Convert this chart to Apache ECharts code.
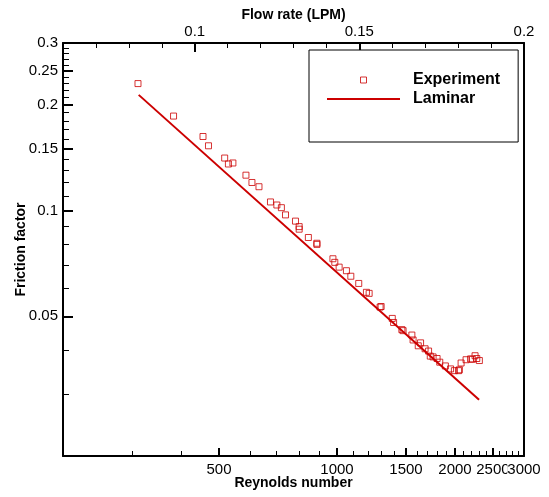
<!DOCTYPE html>
<html>
<head>
<meta charset="utf-8">
<script src="https://cdn.jsdelivr.net/npm/echarts@6/dist/echarts.min.js"></script>
<style>
html,body{margin:0;padding:0;background:#fff;}
#chart{width:549px;height:497px;}
</style>
</head>
<body>
<div id="chart"></div>
<script>
// ---- data ----
const reynolds = [310.7, 382.9, 455.2, 470.1, 517.0, 528.5, 542.6, 585.8, 606.8, 632.4,
  676.6, 702.5, 721.4, 739.1, 783.7, 800.8, 800.8, 845.3, 888.5, 889.0,
  976.5, 987.3, 1012.7, 1057.1, 1084.7, 1136.4, 1188.9, 1207.9, 1288.2, 1296.0,
  1383.8, 1394.6, 1464.0, 1474.5, 1552.6, 1563.7, 1634, 1612, 1677.9, 1712.7,
  1729.8, 1758.7, 1800.5, 1829, 1890.3, 1949.1, 1993.1, 2042.8, 2052.3, 2073.2,
  2134.7, 2192, 2215.4, 2250.4, 2273.3, 2308.1];
const friction = [0.2299, 0.1858, 0.1625, 0.1529, 0.1411, 0.1357, 0.1366, 0.1261, 0.1202, 0.1169,
  0.1058, 0.1037, 0.1019, 0.0972, 0.0933, 0.0900, 0.0885, 0.0838, 0.0807, 0.0801,
  0.0729, 0.0712, 0.0690, 0.0674, 0.0650, 0.0620, 0.0585, 0.0581, 0.0531, 0.0533,
  0.0493, 0.0480, 0.0458, 0.0455, 0.0442, 0.0428, 0.0420, 0.0412, 0.0404, 0.0398,
  0.0385, 0.0383, 0.0379, 0.0370, 0.0361, 0.0354, 0.0350, 0.0350, 0.0352, 0.0368,
  0.0376, 0.0378, 0.0377, 0.0386, 0.0379, 0.0374];
const laminarRe = [312, 2304];
const laminarF = [0.2135, 0.0289];

const reMajorTicks = [500, 1000, 1500, 2000, 2500, 3000];
const reLabelsA = [500, 1000, 1500, 2000, 2500];
const reLabelsB = [3000];
const reMinorTicks = [300, 400, 600, 700, 800, 900, 1100, 1200, 1300, 1400, 1600, 1700, 1800, 1900,
  2100, 2200, 2300, 2400, 2600, 2700, 2800, 2900];
const fMajorTicks = [0.05, 0.1, 0.15, 0.2, 0.25, 0.3];
const fMinorTicks = [0.03, 0.04, 0.06, 0.07, 0.08, 0.09, 0.11, 0.12, 0.13, 0.14, 0.16, 0.17, 0.18, 0.19,
  0.21, 0.22, 0.23, 0.24, 0.26, 0.27, 0.28, 0.29];
const flowMajorTicks = [0.1, 0.15, 0.2];
const flowMinorTicks = [0.07, 0.08, 0.09, 0.11, 0.12, 0.13, 0.14, 0.16, 0.17, 0.18, 0.19];

// ---- chart ----
const FONT = 'Liberation Sans, Arial, Helvetica, sans-serif';
const RED = '#cc0000';
const fmt = v => String(parseFloat(Number(v).toPrecision(4)));
const fmtInt = v => String(Math.round(v));

const chart = echarts.init(document.getElementById('chart'), null, {renderer: 'canvas'});
const axisLineStyle = {show: true, lineStyle: {color: '#000', width: 2}};
const labelStyle = {fontFamily: FONT, fontSize: 15, color: '#000'};
const nameStyle = {fontFamily: FONT, fontSize: 14, fontWeight: 'bold', color: '#000'};

chart.setOption({
  animation: false,
  backgroundColor: '#fff',
  textStyle: {fontFamily: FONT},
  grid: {left: 63, right: 25, top: 43, bottom: 41, containLabel: false},
  xAxis: [
    {
      type: 'log', logBase: 10, min: 200, max: 3000, position: 'bottom',
      axisLine: axisLineStyle,
      axisTick: {show: true, inside: true, length: 8, customValues: reMajorTicks, lineStyle: {color: '#000', width: 2}},
      axisLabel: Object.assign({show: true, margin: 6, customValues: reLabelsA, hideOverlap: false,
        showMinLabel: true, showMaxLabel: true, formatter: fmtInt}, labelStyle),
      splitLine: {show: false}, minorTick: {show: false},
      name: 'Reynolds number', nameLocation: 'middle', nameGap: 20, nameMoveOverlap: false,
      nameTextStyle: nameStyle
    },
    {
      type: 'log', logBase: 10, min: 200, max: 3000, position: 'bottom',
      axisLine: {show: false},
      axisTick: {show: true, inside: true, length: 5, customValues: reMinorTicks, lineStyle: {color: '#000', width: 1}},
      axisLabel: {show: false}, splitLine: {show: false}
    },
    {
      type: 'log', logBase: 10, min: 200, max: 3000, position: 'bottom',
      axisLine: {show: false}, axisTick: {show: false},
      axisLabel: Object.assign({show: true, margin: 6, customValues: reLabelsB, hideOverlap: false,
        showMinLabel: true, showMaxLabel: true, backgroundColor: '#fff', formatter: fmtInt}, labelStyle),
      splitLine: {show: false}
    },
    {
      type: 'value', min: 0.06, max: 0.2, position: 'top',
      axisLine: axisLineStyle,
      axisTick: {show: true, inside: true, length: 5, customValues: flowMinorTicks, lineStyle: {color: '#000', width: 1}},
      axisLabel: {show: false}, splitLine: {show: false}
    },
    {
      type: 'value', min: 0.06, max: 0.2, position: 'top',
      axisLine: {show: false},
      axisTick: {show: true, inside: true, length: 9, customValues: flowMajorTicks, lineStyle: {color: '#000', width: 2}},
      axisLabel: Object.assign({show: true, margin: 4, customValues: flowMajorTicks, formatter: fmt,
        showMinLabel: true, showMaxLabel: true}, labelStyle),
      splitLine: {show: false},
      name: 'Flow rate (LPM)', nameLocation: 'middle', nameGap: 21, nameMoveOverlap: false,
      nameTextStyle: nameStyle
    }
  ],
  yAxis: [
    {
      type: 'log', logBase: 10, min: 0.02, max: 0.3, position: 'left',
      axisLine: axisLineStyle,
      axisTick: {show: true, inside: true, length: 10, customValues: fMajorTicks, lineStyle: {color: '#000', width: 2}},
      axisLabel: Object.assign({show: true, margin: 5, customValues: fMajorTicks, formatter: fmt,
        showMinLabel: true, showMaxLabel: true}, labelStyle),
      splitLine: {show: false}, minorTick: {show: false},
      name: 'Friction factor', nameLocation: 'middle', nameGap: 35, nameRotate: 90, nameMoveOverlap: false,
      nameTextStyle: nameStyle
    },
    {
      type: 'log', logBase: 10, min: 0.02, max: 0.3, position: 'left',
      axisLine: {show: false},
      axisTick: {show: true, inside: true, length: 6, customValues: fMinorTicks, lineStyle: {color: '#000', width: 1}},
      axisLabel: {show: false}, splitLine: {show: false}
    },
    {
      type: 'value', min: 0, max: 1, position: 'right',
      axisLine: axisLineStyle, axisTick: {show: false}, axisLabel: {show: false}, splitLine: {show: false}
    }
  ],
  legend: {
    orient: 'vertical', left: 309, top: 50,
    padding: [22, 18, 35, 18], itemGap: 3, itemWidth: 73, itemHeight: 6,
    borderColor: '#000', borderWidth: 1, backgroundColor: '#fff',
    selectedMode: false,
    textStyle: {fontFamily: FONT, fontSize: 16, fontWeight: 'bold', color: '#000', lineHeight: 16, padding: [0, 0, 0, 8]},
    data: [
      {name: 'Experiment', icon: 'path://M0,0H10V10H0Z', itemStyle: {color: 'transparent', borderColor: RED, borderWidth: 1}},
      {name: 'Laminar', icon: 'path://M0,0H100V3H0Z', itemStyle: {color: RED, borderWidth: 0}}
    ]
  },
  series: [
    {
      name: 'Experiment', type: 'scatter', xAxisIndex: 0, yAxisIndex: 0,
      symbol: 'rect', symbolSize: 6,
      itemStyle: {color: 'transparent', borderColor: RED, borderWidth: 1},
      data: reynolds.map((r, i) => [r, friction[i]]),
      z: 3
    },
    {
      name: 'Laminar', type: 'line', xAxisIndex: 0, yAxisIndex: 0,
      symbol: 'none', lineStyle: {color: RED, width: 2}, itemStyle: {color: RED},
      data: laminarRe.map((r, i) => [r, laminarF[i]]),
      z: 2
    }
  ]
});
</script>
</body>
</html>
